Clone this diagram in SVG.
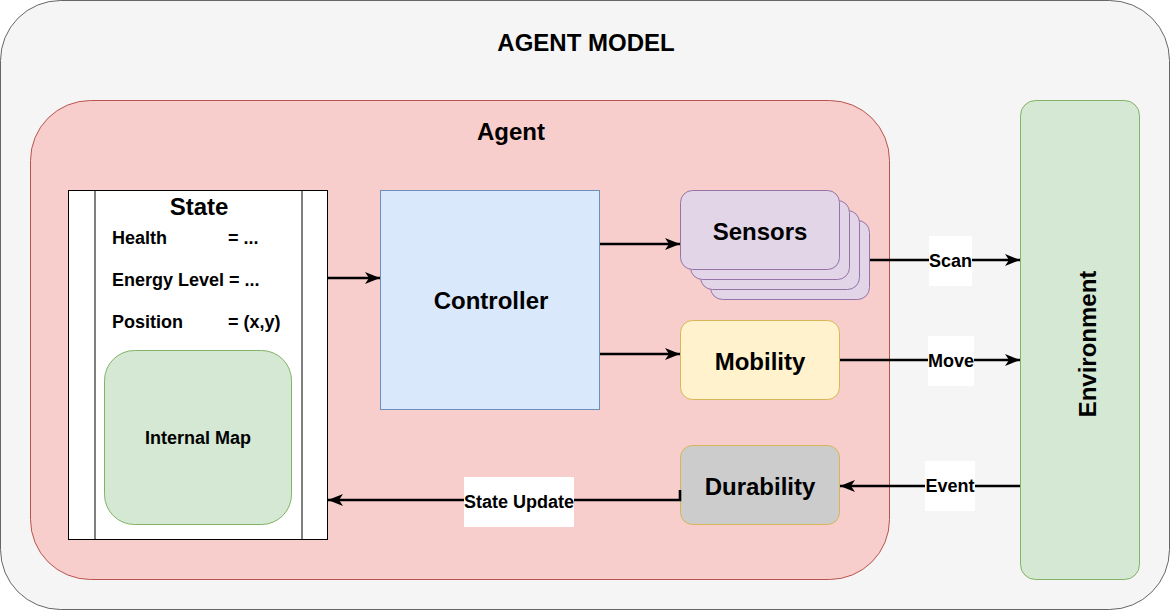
<svg xmlns="http://www.w3.org/2000/svg" width="1171" height="611" viewBox="0 0 1171 611">
<defs>
<marker id="arr" markerUnits="userSpaceOnUse" markerWidth="16" markerHeight="14" refX="15" refY="6.5" orient="auto">
<path d="M0,0.5 L15,6.5 L0,12.5 L4,6.5 Z" fill="#000"/>
</marker>
</defs>
<style>
text{font-family:"Liberation Sans",Arial,sans-serif;font-weight:bold;fill:#000}
.t{font-size:24px;text-anchor:middle;dominant-baseline:central}
.s{font-size:18px;dominant-baseline:central}
.c{text-anchor:middle}
.conn{stroke:#000;stroke-width:2.6;fill:none}
.lbl{fill:#fff}
</style>
<g id="agent-model">
<rect x="0.5" y="0.5" width="1169" height="609" rx="60" fill="#f5f5f5" stroke="#666666"/>
<text class="t" x="586" y="42">AGENT MODEL</text>
</g>
<g id="agent">
<rect x="30.5" y="100.5" width="859" height="479" rx="60" fill="#f8cecc" stroke="#b85450"/>
<text class="t" x="511" y="131">Agent</text>
</g>
<g id="state">
<rect x="68.5" y="190.5" width="259" height="349" fill="#fff" stroke="#000"/>
<line x1="95" y1="190.5" x2="95" y2="539.5" stroke="#000"/>
<line x1="302" y1="190.5" x2="302" y2="539.5" stroke="#000"/>
<text class="t" x="199" y="206">State</text>
<text class="s" x="112" y="238">Health</text>
<text class="s" x="228" y="238">= ...</text>
<text class="s" x="112" y="280">Energy Level = ...</text>
<text class="s" x="112" y="322">Position</text>
<text class="s" x="228" y="322">= (x,y)</text>
</g>
<g id="internal-map">
<rect x="104.5" y="350.5" width="187" height="174" rx="30" fill="#d5e8d4" stroke="#82b366"/>
<text class="s c" x="198" y="438">Internal Map</text>
</g>
<g id="controller">
<rect x="380.5" y="190.5" width="219" height="219" fill="#dae8fc" stroke="#6c8ebf"/>
<text class="t" x="491" y="300">Controller</text>
</g>
<g id="sensors">
<rect x="710.5" y="220.5" width="159" height="79" rx="12" fill="#e1d5e7" stroke="#9673a6"/>
<rect x="700.5" y="210.5" width="159" height="79" rx="12" fill="#e1d5e7" stroke="#9673a6"/>
<rect x="690.5" y="200.5" width="159" height="79" rx="12" fill="#e1d5e7" stroke="#9673a6"/>
<rect x="680.5" y="190.5" width="159" height="79" rx="12" fill="#e1d5e7" stroke="#9673a6"/>
<text class="t" x="760" y="231">Sensors</text>
</g>
<g id="mobility">
<rect x="680.5" y="320.5" width="159" height="79" rx="12" fill="#fff2cc" stroke="#d6b656"/>
<text class="t" x="760" y="361">Mobility</text>
</g>
<g id="durability">
<rect x="680.5" y="445.5" width="159" height="79" rx="12" fill="#cccccc" stroke="#d6b656"/>
<text class="t" x="760" y="486">Durability</text>
</g>
<g id="environment">
<rect x="1020.5" y="100.5" width="119" height="479" rx="15" fill="#d5e8d4" stroke="#82b366"/>
<text class="t" x="1087" y="344" transform="rotate(-90 1087 344)">Environment</text>
</g>
<g id="connectors">
<path class="conn" d="M328,278 H380" marker-end="url(#arr)"/>
<path class="conn" d="M600,244 H680" marker-end="url(#arr)"/>
<path class="conn" d="M600,354 H680" marker-end="url(#arr)"/>
<path class="conn" d="M870,260 H1020" marker-end="url(#arr)"/>
<path class="conn" d="M840,360 H1020" marker-end="url(#arr)"/>
<path class="conn" d="M1020,486 H840" marker-end="url(#arr)"/>
<path class="conn" d="M680,490 V500 H328" marker-end="url(#arr)"/>
<rect class="lbl" x="929" y="236" width="43" height="50"/>
<text class="s c" x="950.5" y="261">Scan</text>
<rect class="lbl" x="928" y="336" width="46" height="50"/>
<text class="s c" x="951" y="361">Move</text>
<rect class="lbl" x="925" y="461" width="50" height="50"/>
<text class="s c" x="950" y="486">Event</text>
<rect class="lbl" x="464" y="477" width="110" height="50"/>
<text class="s c" x="519" y="502">State Update</text>
</g>
</svg>
